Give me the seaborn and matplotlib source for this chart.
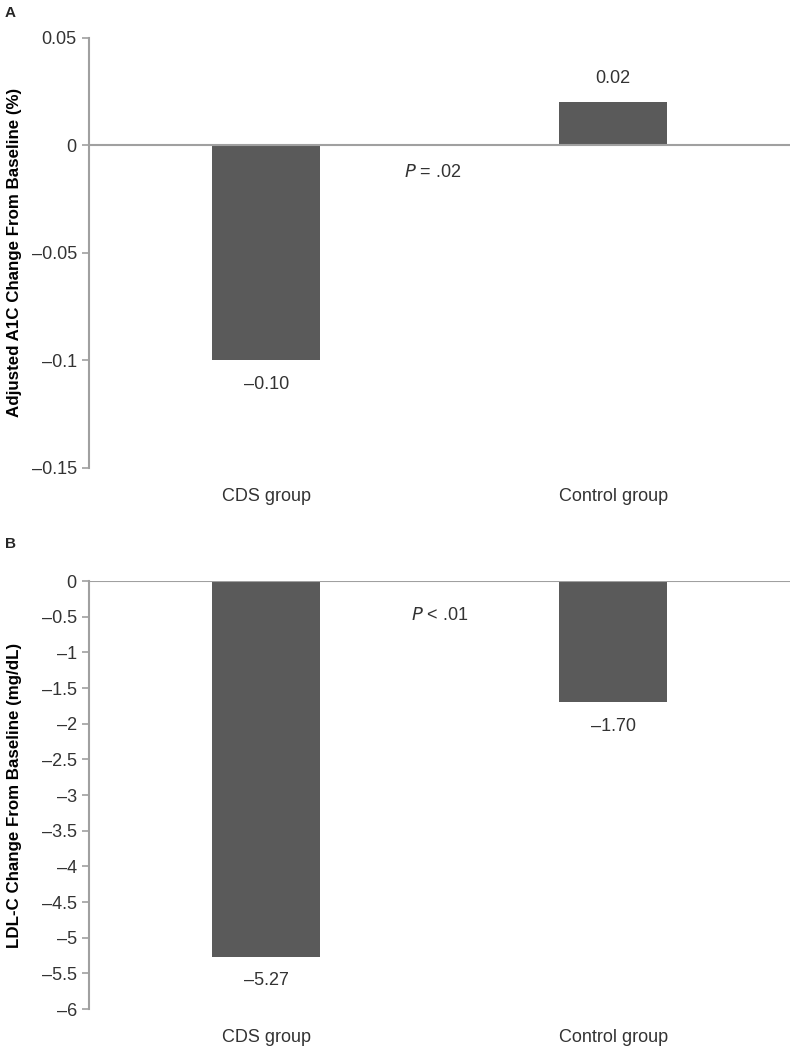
import pandas as pd
import seaborn as sns
import matplotlib.pyplot as plt
from matplotlib.ticker import FuncFormatter

# Data
groups = ["CDS group", "Control group"]
a1c_change = [-0.10, 0.02]
ldl_change = [-5.27, -1.70]
a1c_labels = ["\u20130.10", "0.02"]
ldl_labels = ["\u20135.27", "\u20131.70"]
a1c_ticks = [0.05, 0, -0.05, -0.1, -0.15]
ldl_ticks = [0, -0.5, -1, -1.5, -2, -2.5, -3, -3.5, -4, -4.5, -5, -5.5, -6]

sns.set_style("white")
plt.rcParams["font.family"] = ["Liberation Sans", "DejaVu Sans"]

bar_color = "#5a5a5a"
axis_color = "#a0a0a0"
text_color = "#333333"


def fmt(v, pos):
    s = ("%g" % v)
    return s.replace("-", "\u2013")


fig = plt.figure(figsize=(7.9, 10.49), dpi=100)
ax_a = fig.add_axes([0.113, 0.554, 0.887, 0.410])
ax_b = fig.add_axes([0.113, 0.038, 0.887, 0.408])

df_a = pd.DataFrame({"group": groups, "value": a1c_change})
df_b = pd.DataFrame({"group": groups, "value": ldl_change})

for ax, df, ticks, lbls, ylabel in [
    (ax_a, df_a, a1c_ticks, a1c_labels, "Adjusted A1C Change From Baseline (%)"),
    (ax_b, df_b, ldl_ticks, ldl_labels, "LDL-C Change From Baseline (mg/dL)"),
]:
    sns.barplot(data=df, x="group", y="value", color=bar_color, width=0.31,
                saturation=1, ax=ax, edgecolor="none")
    ax.set_xlim(-0.51, 1.51)
    ax.set_ylim(min(ticks), max(ticks))
    ax.set_yticks(ticks)
    ax.yaxis.set_major_formatter(FuncFormatter(fmt))
    ax.axhline(0, color=axis_color, lw=1.5, zorder=3)
    for side in ["top", "right", "bottom"]:
        ax.spines[side].set_visible(False)
    ax.spines["left"].set_color(axis_color)
    ax.spines["left"].set_linewidth(1.5)
    ax.tick_params(axis="y", left=True, length=5, width=1.2, color=axis_color,
                   labelsize=13, labelcolor=text_color, pad=4)
    ax.tick_params(axis="x", bottom=False, labelsize=13, labelcolor=text_color, pad=11)
    ax.set_xlabel("")
    ax.set_ylabel(ylabel, fontsize=12.2, fontweight="bold", color="black")
    ax.yaxis.set_label_coords(-0.096, 0.5)
    # value labels
    for i, (v, t) in enumerate(zip(df["value"], lbls)):
        off = 11 if v > 0 else -11
        ax.annotate(t, (i, v), xytext=(0, off), textcoords="offset points",
                    ha="center", va="bottom" if v > 0 else "top",
                    fontsize=13, color=text_color)

ax_a.text(0.48, -0.0126, "$\\it{P}$ = .02", ha="center", va="center", fontsize=13, color=text_color)
ax_b.text(0.5, -0.48, "$\\it{P}$ < .01", ha="center", va="center", fontsize=13, color=text_color)

fig.text(0.006, 0.988, "A", fontsize=11, fontweight="bold", va="center")
fig.text(0.006, 0.481, "B", fontsize=11, fontweight="bold", va="center")

fig.savefig("out.png", dpi=100)
